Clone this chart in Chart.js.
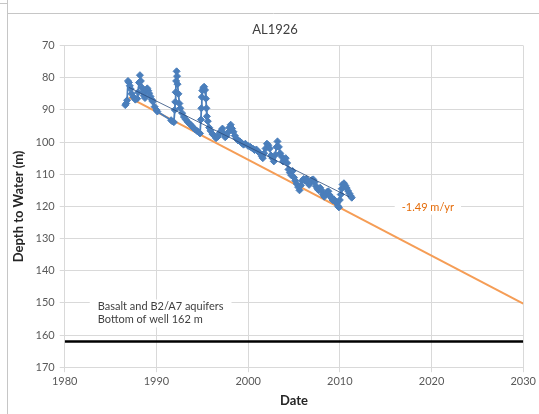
<!DOCTYPE html>
<html>
<head>
<meta charset="utf-8">
<script src="https://cdn.jsdelivr.net/npm/chart.js@4.4.1/dist/chart.umd.min.js"></script>
<style>
  html, body { margin: 0; padding: 0; background: #fff; }
  #wrap { width: 539px; height: 414px; position: relative; }
</style>
</head>
<body>
<div id="wrap"><canvas id="chart" width="539" height="414"></canvas></div>
<script>
// Well AL1926 water levels
const years = [
  1986.6, 1986.7, 1986.8, 1986.9, 1987.0, 1987.1, 1987.2, 1987.3, 1987.5, 1987.7,
  1987.9, 1988.0, 1988.1, 1988.2, 1988.3, 1988.4, 1988.5, 1988.6, 1988.75, 1988.9,
  1989.0, 1989.1, 1989.2, 1989.35, 1989.5, 1989.6, 1989.8, 1990.0, 1990.1,
  1991.6, 1991.75, 1991.9, 1992.0, 1992.05, 1992.1, 1992.15, 1992.2, 1992.25, 1992.3,
  1992.4, 1992.5, 1992.6, 1992.8, 1993.0, 1993.2, 1993.4, 1993.6, 1993.8, 1994.0,
  1994.2, 1994.4, 1994.6, 1994.75, 1994.85, 1994.9, 1994.95, 1995.0, 1995.1, 1995.2,
  1995.3, 1995.4, 1995.45, 1995.5, 1995.6, 1995.75, 1995.9, 1996.1, 1996.3, 1996.5,
  1996.7, 1996.9, 1997.05, 1997.2, 1997.35, 1997.5, 1997.65, 1997.8, 1997.95, 1998.1,
  1998.25, 1998.4, 1998.55, 1998.7, 1998.9, 1999.1, 1999.3, 1999.5, 1999.7, 2000.0,
  2000.25, 2000.5, 2000.7, 2000.9, 2001.1, 2001.3, 2001.5, 2001.6, 2001.75, 2001.9,
  2002.05, 2002.2, 2002.35, 2002.5, 2002.65, 2002.8, 2002.95, 2003.1, 2003.2, 2003.35,
  2003.5, 2003.65, 2003.8, 2003.95, 2004.1, 2004.25, 2004.4, 2004.55, 2004.7, 2004.85,
  2005.0, 2005.15, 2005.3, 2005.45, 2005.6, 2005.75, 2005.9, 2006.05, 2006.2, 2006.35,
  2006.5, 2006.65, 2006.8, 2006.95, 2007.1, 2007.25, 2007.4, 2007.55, 2007.7, 2007.85,
  2008.0, 2008.15, 2008.3, 2008.45, 2008.6, 2008.75, 2008.9, 2009.05, 2009.2, 2009.35,
  2009.5, 2009.65, 2009.8, 2009.9, 2010.0, 2010.1, 2010.2, 2010.3, 2010.45, 2010.6,
  2010.75, 2010.9, 2011.05, 2011.2, 2011.3
];
const depths = [
  88.5, 88.0, 87.0, 81.0, 81.5, 82.5, 83.5, 85.0, 86.0, 86.8,
  86.5, 84.5, 81.5, 79.2, 81.0, 83.0, 84.5, 85.5, 86.3, 84.0,
  83.3, 84.0, 84.8, 85.8, 86.8, 87.4, 89.0, 90.0, 90.5,
  93.2, 93.6, 93.8, 90.0, 87.5, 84.5, 81.0, 78.0, 79.5, 82.0,
  85.0, 88.0, 89.5, 91.0, 92.2, 93.0, 93.7, 94.3, 94.8, 95.5,
  96.0, 96.5, 96.9, 97.3, 93.0, 89.5, 86.0, 84.0, 83.2, 82.8,
  83.8, 86.5, 89.5, 92.0, 93.5, 95.5, 96.5, 97.5, 98.0, 98.8,
  98.3, 97.2, 96.5, 95.8, 97.5, 98.5, 98.0, 97.0, 95.5, 94.6,
  95.8, 96.8, 98.0, 98.8, 99.5, 99.8, 100.3, 100.8, 100.5, 101.2,
  101.5, 102.0, 102.5, 102.3, 103.0, 103.5, 104.5, 105.0, 103.5, 102.0,
  100.5, 101.0, 102.0, 104.2, 105.0, 106.0, 104.0, 101.5, 99.8, 101.5,
  103.5, 104.5, 106.0, 105.5, 105.0, 106.5, 108.5, 109.5, 110.3, 109.0,
  111.0, 112.0, 113.0, 114.0, 115.0, 113.5, 112.0, 111.5, 112.0, 111.5,
  112.5, 113.3, 112.5, 111.8, 111.6, 112.5, 113.7, 114.5, 115.0, 114.2,
  115.0, 116.3, 117.0, 116.3, 115.5, 115.3, 116.5, 117.3, 118.0, 117.8,
  118.5, 119.0, 119.9, 120.3, 118.0, 116.3, 114.5, 113.2, 112.8, 113.5,
  114.3, 115.2, 116.0, 116.8, 117.3
];

// trend lines and well bottom
const trendYears = [1987, 2030];
const trendDepths = [86.1, 150.2];
const fitYears = [1987, 2011];
const fitDepths = [83, 117];
const wellYears = [1980, 2030];
const wellDepths = [162, 162];

const xTicks = [1980, 1990, 2000, 2010, 2020, 2030];

function toPoints(xs, ys) {
  return xs.map((x, i) => ({ x: x, y: ys[i] }));
}

// frame + white background
const framePlugin = {
  id: 'frame',
  beforeDraw(chart) {
    const c = chart.ctx;
    c.save();
    c.fillStyle = '#fff';
    c.fillRect(0, 0, chart.width, chart.height);
    c.strokeStyle = '#c6c6c6';
    c.lineWidth = 1;
    c.beginPath();
    c.moveTo(7.5, 0); c.lineTo(7.5, chart.height);
    c.moveTo(8, 13.5); c.lineTo(chart.width, 13.5);
    c.moveTo(0, 3.5); c.lineTo(7, 3.5);
    c.stroke();
    c.restore();
  }
};

// text labels with white boxes
const notesPlugin = {
  id: 'notes',
  afterDraw(chart) {
    const c = chart.ctx;
    const xs = chart.scales.x, ys = chart.scales.y;
    c.save();
    c.font = '11px Lato, "Open Sans", sans-serif';
    c.textBaseline = 'middle';

    const lx = xs.getPixelForValue(1983.6);
    const l1 = ys.getPixelForValue(151.1);
    const l2 = ys.getPixelForValue(155.2);
    const w1 = c.measureText('Basalt and B2/A7 aquifers').width;
    c.fillStyle = '#fff';
    c.fillRect(lx - 8, l1 - 7, w1 + 16, 28);
    c.fillStyle = '#404040';
    c.textAlign = 'left';
    c.fillText('Basalt and B2/A7 aquifers', lx, l1);
    c.fillText('Bottom of well 162 m', lx, l2);

    const tx = xs.getPixelForValue(2019.6);
    const ty = ys.getPixelForValue(120.4);
    const t = '-1.49 m/yr';
    const tw = c.measureText(t).width;
    c.fillStyle = '#fff';
    c.fillRect(tx - tw / 2 - 7, ty - 7, tw + 14, 14);
    c.fillStyle = '#e46c0a';
    c.textAlign = 'center';
    c.fillText(t, tx, ty);
    c.restore();
  }
};

new Chart(document.getElementById('chart'), {
  type: 'scatter',
  data: {
    datasets: [
      {
        label: 'AL1926',
        data: toPoints(years, depths),
        showLine: true,
        borderColor: '#4a7ebb',
        backgroundColor: '#4a7ebb',
        borderWidth: 1.8,
        pointStyle: 'rectRot',
        pointRadius: 3.5,
        pointBorderWidth: 1,
        order: 1
      },
      {
        label: 'Linear (AL1926)',
        data: toPoints(fitYears, fitDepths),
        showLine: true,
        borderColor: '#2a4a7a',
        borderWidth: 0.8,
        pointRadius: 0,
        order: 0
      },
      {
        label: 'Trend',
        data: toPoints(trendYears, trendDepths),
        showLine: true,
        borderColor: '#f59d56',
        borderWidth: 2,
        pointRadius: 0,
        order: 2
      },
      {
        label: 'Bottom of well',
        data: toPoints(wellYears, wellDepths),
        showLine: true,
        borderColor: '#000',
        borderWidth: 2.5,
        pointRadius: 0,
        order: 3
      }
    ]
  },
  options: {
    responsive: false,
    animation: false,
    layout: { padding: { left: 11, right: 0, top: 18, bottom: 5 } },
    plugins: {
      legend: { display: false },
      tooltip: { enabled: false },
      title: {
        display: true,
        text: 'AL1926',
        color: '#404040',
        font: { family: 'Lato, "Open Sans", sans-serif', size: 13, weight: 'normal' },
        padding: { top: 4, bottom: 8 }
      }
    },
    scales: {
      x: {
        type: 'linear',
        min: 1980,
        max: 2030,
        afterBuildTicks: (axis) => { axis.ticks = xTicks.map(v => ({ value: v })); },
        grid: { color: '#d9d9d9', tickLength: 5 },
        border: { color: '#d9d9d9' },
        ticks: {
          color: '#595959',
          font: { family: 'Lato, "Open Sans", sans-serif', size: 11 },
          padding: 3,
          maxRotation: 0,
          callback: (v) => String(v)
        },
        title: {
          display: true,
          text: 'Date',
          color: '#262626',
          font: { family: 'Lato, "Open Sans", sans-serif', size: 13, weight: 'bold' },
          padding: { top: 2, bottom: 0 }
        }
      },
      y: {
        type: 'linear',
        reverse: true,
        min: 70,
        max: 170,
        ticks: {
          stepSize: 10,
          color: '#595959',
          font: { family: 'Lato, "Open Sans", sans-serif', size: 11 },
          padding: 5
        },
        grid: { color: '#d9d9d9', tickLength: 5 },
        border: { color: '#d9d9d9' },
        title: {
          display: true,
          text: 'Depth to Water (m)',
          color: '#262626',
          font: { family: 'Lato, "Open Sans", sans-serif', size: 13, weight: 'bold' },
          padding: { top: 0, bottom: 4 }
        }
      }
    }
  },
  plugins: [framePlugin, notesPlugin]
});
</script>
</body>
</html>
